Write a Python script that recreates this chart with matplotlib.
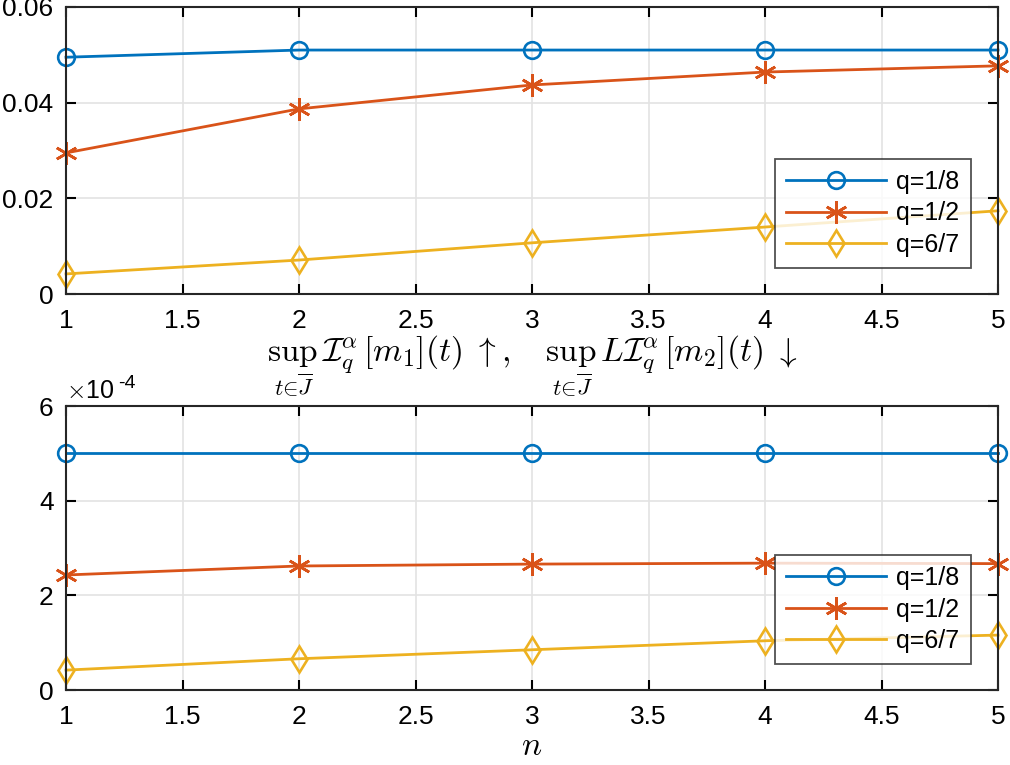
import numpy as np
import matplotlib
matplotlib.use('Agg')
import matplotlib.pyplot as plt

plt.rcParams['font.family'] = ['Liberation Sans', 'DejaVu Sans']
plt.rcParams['mathtext.fontset'] = 'cm'

# data
n = [1, 2, 3, 4, 5]
labels = ['q=1/8', 'q=1/2', 'q=6/7']

top_q18 = [0.0495, 0.0510, 0.0510, 0.0510, 0.0510]
top_q12 = [0.0295, 0.0387, 0.0437, 0.0464, 0.0477]
top_q67 = [0.0042, 0.0071, 0.0107, 0.0140, 0.0174]

bot_q18 = [5.0e-4, 5.0e-4, 5.0e-4, 5.0e-4, 5.0e-4]
bot_q12 = [2.43e-4, 2.62e-4, 2.66e-4, 2.68e-4, 2.67e-4]
bot_q67 = [0.42e-4, 0.66e-4, 0.85e-4, 1.04e-4, 1.16e-4]

colors = ['#0072BD', '#D95319', '#EDB120']
markers = ['o', (6, 2, 0), 'd']
msizes = [12, 16, 13]
W, H = 1010, 765

fig = plt.figure(figsize=(W / 100, H / 100), dpi=100)
ax1 = fig.add_axes([66 / W, 1 - 294 / H, (998 - 66) / W, (294 - 7) / H])
ax2 = fig.add_axes([66 / W, 1 - 690 / H, (998 - 66) / W, (690 - 406) / H])


def style(ax):
    ax.set_xlim(1, 5)
    ax.set_xticks(np.arange(1, 5.01, 0.5))
    ax.set_xticklabels(['1', '1.5', '2', '2.5', '3', '3.5', '4', '4.5', '5'])
    ax.grid(True, color='#e3e3e3', linewidth=1.2)
    ax.set_axisbelow(True)
    ax.tick_params(direction='in', top=True, right=True, length=7, width=1.5,
                   labelsize=19, colors='black')
    ax.tick_params(axis='x', pad=11)
    ax.tick_params(axis='y', pad=9)
    for s in ax.spines.values():
        s.set_linewidth(1.5)
        s.set_color('#262626')


scale = 1e-4
for ys, c, m, ms, lab in zip([top_q18, top_q12, top_q67], colors, markers, msizes, labels):
    ax1.plot(n, ys, color=c, marker=m, markersize=ms, markerfacecolor='none',
             markeredgewidth=1.9, linewidth=2.0, label=lab, clip_on=False)
for ys, c, m, ms, lab in zip([bot_q18, bot_q12, bot_q67], colors, markers, msizes, labels):
    ax2.plot(n, np.array(ys) / scale, color=c, marker=m, markersize=ms,
             markerfacecolor='none', markeredgewidth=1.9, linewidth=2.0,
             label=lab, clip_on=False)

style(ax1)
ax1.set_ylim(0, 0.06)
ax1.set_yticks([0, 0.02, 0.04, 0.06])
ax1.set_yticklabels(['0', '0.02', '0.04', '0.06'], fontsize=19)

style(ax2)
ax2.set_ylim(0, 6)
ax2.set_yticks([0, 2, 4, 6])

ax1.set_xlabel(r'$\sup_{t\in\overline{J}}\,\mathcal{I}_q^{\alpha}[m_1](t)\ \uparrow,\quad'
               r'\sup_{t\in\overline{J}}\,L\mathcal{I}_q^{\alpha}[m_2](t)\ \downarrow$',
               fontsize=24, labelpad=0)
ax2.set_xlabel(r'$n$', fontsize=24, labelpad=1)

ax2.text(0.0, 1.01, r'$\times$10', transform=ax2.transAxes, fontsize=18,
         ha='left', va='bottom')
ax2.text(0.056, 1.05, '-4', transform=ax2.transAxes, fontsize=14,
         ha='left', va='bottom')

for ax in (ax1, ax2):
    leg = ax.legend(loc='lower right', bbox_to_anchor=(0.971, 0.09), fontsize=18,
                    frameon=True, fancybox=False, edgecolor='#262626',
                    handlelength=4.0, borderpad=0.45, labelspacing=0.3,
                    handletextpad=0.4, borderaxespad=0)
    leg.get_frame().set_linewidth(1.3)

fig.savefig('out.png', dpi=100, facecolor='white')
